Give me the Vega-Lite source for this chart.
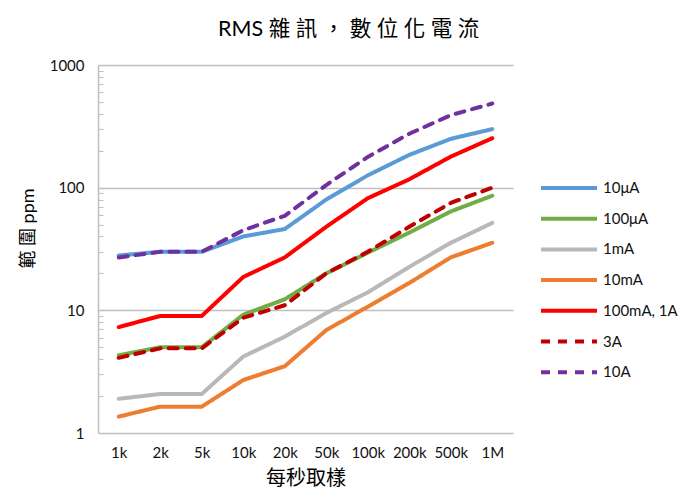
{
  "$schema": "https://vega.github.io/schema/vega-lite/v6.json",
  "width": 415,
  "height": 368,
  "autosize": "none",
  "padding": {"left": 98, "top": 65, "right": 181, "bottom": 61},
  "background": "white",
  "title": {
    "text": "RMS 雜 訊 ， 數 位 化 電 流",
    "frame": "bounds",
    "anchor": "middle",
    "font": "Lato, Noto Sans CJK TC",
    "fontSize": 21.5,
    "fontWeight": "normal",
    "color": "#000000",
    "offset": 18
  },
  "config": {
    "view": {"stroke": null},
    "font": "Lato, Noto Sans CJK TC"
  },
  "data": {
    "values": [
      {"rate": "1k", "series": "10μA", "v": 28},
      {"rate": "2k", "series": "10μA", "v": 30},
      {"rate": "5k", "series": "10μA", "v": 30},
      {"rate": "10k", "series": "10μA", "v": 40},
      {"rate": "20k", "series": "10μA", "v": 46},
      {"rate": "50k", "series": "10μA", "v": 80},
      {"rate": "100k", "series": "10μA", "v": 126},
      {"rate": "200k", "series": "10μA", "v": 185},
      {"rate": "500k", "series": "10μA", "v": 250},
      {"rate": "1M", "series": "10μA", "v": 300},

      {"rate": "1k", "series": "100μA", "v": 4.3},
      {"rate": "2k", "series": "100μA", "v": 5.0},
      {"rate": "5k", "series": "100μA", "v": 5.0},
      {"rate": "10k", "series": "100μA", "v": 9.2},
      {"rate": "20k", "series": "100μA", "v": 12.3},
      {"rate": "50k", "series": "100μA", "v": 20},
      {"rate": "100k", "series": "100μA", "v": 29.5},
      {"rate": "200k", "series": "100μA", "v": 43},
      {"rate": "500k", "series": "100μA", "v": 64},
      {"rate": "1M", "series": "100μA", "v": 86},

      {"rate": "1k", "series": "1mA", "v": 1.9},
      {"rate": "2k", "series": "1mA", "v": 2.08},
      {"rate": "5k", "series": "1mA", "v": 2.08},
      {"rate": "10k", "series": "1mA", "v": 4.2},
      {"rate": "20k", "series": "1mA", "v": 6.1},
      {"rate": "50k", "series": "1mA", "v": 9.5},
      {"rate": "100k", "series": "1mA", "v": 14},
      {"rate": "200k", "series": "1mA", "v": 22.6},
      {"rate": "500k", "series": "1mA", "v": 35.5},
      {"rate": "1M", "series": "1mA", "v": 51.6},

      {"rate": "1k", "series": "10mA", "v": 1.36},
      {"rate": "2k", "series": "10mA", "v": 1.64},
      {"rate": "5k", "series": "10mA", "v": 1.64},
      {"rate": "10k", "series": "10mA", "v": 2.7},
      {"rate": "20k", "series": "10mA", "v": 3.5},
      {"rate": "50k", "series": "10mA", "v": 6.9},
      {"rate": "100k", "series": "10mA", "v": 10.7},
      {"rate": "200k", "series": "10mA", "v": 16.7},
      {"rate": "500k", "series": "10mA", "v": 27},
      {"rate": "1M", "series": "10mA", "v": 35.5},

      {"rate": "1k", "series": "100mA, 1A", "v": 7.3},
      {"rate": "2k", "series": "100mA, 1A", "v": 9.0},
      {"rate": "5k", "series": "100mA, 1A", "v": 9.0},
      {"rate": "10k", "series": "100mA, 1A", "v": 18.7},
      {"rate": "20k", "series": "100mA, 1A", "v": 27},
      {"rate": "50k", "series": "100mA, 1A", "v": 48},
      {"rate": "100k", "series": "100mA, 1A", "v": 82},
      {"rate": "200k", "series": "100mA, 1A", "v": 117},
      {"rate": "500k", "series": "100mA, 1A", "v": 179},
      {"rate": "1M", "series": "100mA, 1A", "v": 253},

      {"rate": "1k", "series": "3A", "v": 4.1},
      {"rate": "2k", "series": "3A", "v": 4.9},
      {"rate": "5k", "series": "3A", "v": 4.9},
      {"rate": "10k", "series": "3A", "v": 8.7},
      {"rate": "20k", "series": "3A", "v": 11},
      {"rate": "50k", "series": "3A", "v": 20},
      {"rate": "100k", "series": "3A", "v": 30},
      {"rate": "200k", "series": "3A", "v": 48},
      {"rate": "500k", "series": "3A", "v": 75},
      {"rate": "1M", "series": "3A", "v": 100},

      {"rate": "1k", "series": "10A", "v": 27},
      {"rate": "2k", "series": "10A", "v": 30},
      {"rate": "5k", "series": "10A", "v": 30},
      {"rate": "10k", "series": "10A", "v": 45},
      {"rate": "20k", "series": "10A", "v": 59},
      {"rate": "50k", "series": "10A", "v": 105},
      {"rate": "100k", "series": "10A", "v": 178},
      {"rate": "200k", "series": "10A", "v": 275},
      {"rate": "500k", "series": "10A", "v": 390},
      {"rate": "1M", "series": "10A", "v": 485}
    ]
  },
  "mark": {"type": "line", "strokeWidth": 4, "strokeCap": "round", "strokeJoin": "round"},
  "encoding": {
    "x": {
      "field": "rate",
      "type": "ordinal",
      "sort": ["1k", "2k", "5k", "10k", "20k", "50k", "100k", "200k", "500k", "1M"],
      "scale": {"type": "point", "padding": 0.5},
      "axis": {
        "title": "每秒取樣",
        "titleFont": "Lato, Noto Sans CJK TC",
        "titleFontSize": 20,
        "titleFontWeight": "normal",
        "titleColor": "#000000",
        "titlePadding": 8,
        "labelAngle": 0,
        "labelFont": "Lato",
        "labelFontSize": 15,
        "labelColor": "#111111",
        "labelPadding": 12,
        "ticks": false,
        "domainColor": "#bfbfbf",
        "domainWidth": 1.5,
        "grid": false
      }
    },
    "y": {
      "field": "v",
      "type": "quantitative",
      "scale": {"type": "log", "domain": [1, 1000], "nice": false},
      "axis": {
        "title": "範 圍 ppm",
        "titleFont": "Lato, Noto Sans CJK TC",
        "titleFontSize": 18,
        "titleFontWeight": "normal",
        "titleColor": "#000000",
        "titlePadding": 12,
        "titleY": 163,
        "values": [1, 2, 3, 4, 5, 6, 7, 8, 9, 10, 20, 30, 40, 50, 60, 70, 80, 90, 100, 200, 300, 400, 500, 600, 700, 800, 900, 1000],
        "labelExpr": "indexof([1, 10, 100, 1000], datum.value) >= 0 ? datum.value + '' : ''",
        "labelFont": "Lato",
        "labelFontSize": 15,
        "labelColor": "#111111",
        "labelPadding": 19,
        "tickSize": -5,
        "tickColor": "#bfbfbf",
        "tickWidth": 1,
        "domainColor": "#bfbfbf",
        "domainWidth": 1.5,
        "grid": true,
        "gridColor": "#bfbfbf",
        "gridWidth": 1.5,
        "gridOpacity": {"condition": {"test": "indexof([10, 100, 1000], datum.value) >= 0", "value": 1}, "value": 0}
      }
    },
    "color": {
      "field": "series",
      "type": "nominal",
      "scale": {
        "domain": ["10μA", "100μA", "1mA", "10mA", "100mA, 1A", "3A", "10A"],
        "range": ["#5b9bd5", "#70ad47", "#b8b8b8", "#ed7d31", "#ff0000", "#c00000", "#7030a0"]
      },
      "legend": {
        "title": null,
        "orient": "none",
        "legendX": 455,
        "legendY": 107,
        "symbolType": "M-2,0H2",
        "symbolSize": 784,
        "symbolStrokeWidth": 4,
        "labelFont": "Lato",
        "labelFontSize": 15,
        "labelColor": "#111111",
        "labelOffset": 18,
        "rowPadding": 6.7,
        "padding": 0
      }
    },
    "strokeDash": {
      "field": "series",
      "type": "nominal",
      "scale": {
        "domain": ["10μA", "100μA", "1mA", "10mA", "100mA, 1A", "3A", "10A"],
        "range": [[1, 0], [1, 0], [1, 0], [1, 0], [1, 0], [9, 8], [9, 8]]
      },
      "legend": null
    }
  }
}
